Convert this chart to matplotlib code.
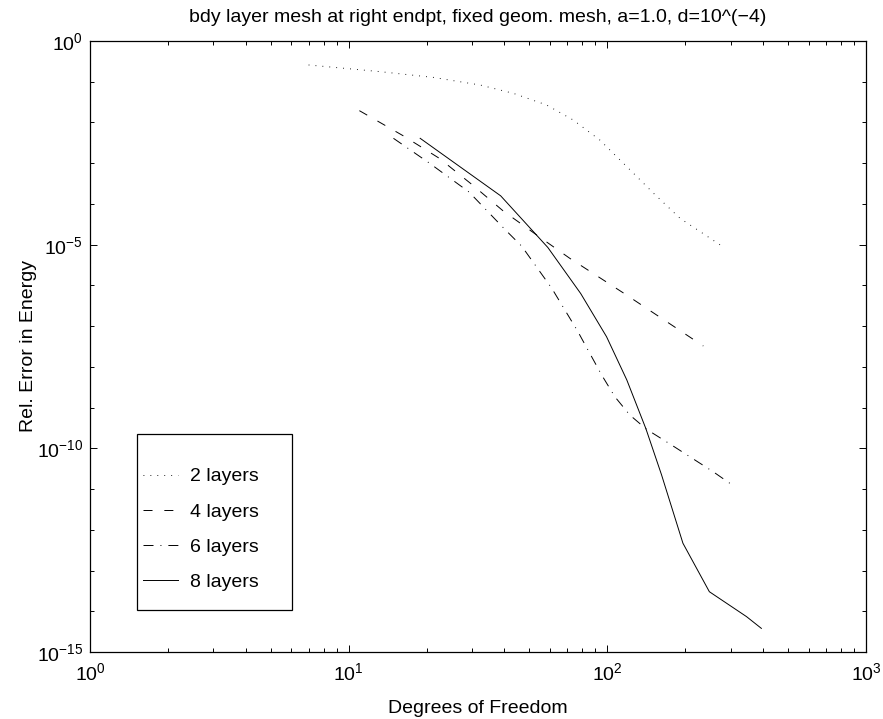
import matplotlib
matplotlib.use("Agg")
import matplotlib.pyplot as plt
from matplotlib.patches import Rectangle
from matplotlib.ticker import LogLocator, NullFormatter, LogFormatterSciNotation, FixedLocator

plt.rcParams['font.family'] = ['Liberation Sans', 'DejaVu Sans']
plt.rcParams['mathtext.fontset'] = 'custom'
plt.rcParams['mathtext.rm'] = 'Liberation Sans'
plt.rcParams['mathtext.it'] = 'Liberation Sans'
plt.rcParams['lines.scale_dashes'] = False

title = "bdy layer mesh at right endpt, fixed geom. mesh, a=1.0, d=10^(\u22124)"
xlabel = "Degrees of Freedom"
ylabel = "Rel. Error in Energy"
labels = ["2 layers", "4 layers", "6 layers", "8 layers"]

x2 = [7, 13.2, 21.2, 32.2, 43.3, 58.2, 73.8, 93.5, 119, 151, 191, 277]
y2 = [0.258, 0.177, 0.128, 0.0832, 0.0519, 0.0269, 0.0115, 0.00371, 8.2e-4, 1.82e-4, 4.44e-5, 9.3e-6]

x4 = [11, 16.3, 22.4, 29.9, 39.6, 53.3, 71.6, 116, 235]
y4 = [1.95e-2, 4.66e-3, 1.32e-3, 3.03e-4, 6.70e-5, 1.73e-5, 4.62e-6, 6.38e-7, 3.25e-8]

x6 = [14.9, 20.4, 29.2, 39.8, 46.7, 61.0, 76.6, 95.1, 106.9, 122.2, 141.9, 177.0, 256.4, 311]
y6 = [4.08e-3, 1.03e-3, 1.96e-4, 2.52e-5, 9.12e-6, 8.47e-7, 7.73e-8, 6.30e-9, 1.85e-9,
      6.56e-10, 2.92e-10, 1.21e-10, 2.67e-11, 1.14e-11]

x8 = [18.9, 38.7, 58.9, 78.9, 99.3, 118.9, 141, 162, 196, 248, 345, 394]
y8 = [4.08e-3, 1.58e-4, 8.51e-6, 6.31e-7, 5.50e-8, 4.79e-9, 3.02e-10, 2.24e-11,
      4.68e-13, 3.02e-14, 7.41e-15, 3.80e-15]

fig = plt.figure(figsize=(8.83, 7.19), dpi=100)
ax = fig.add_axes([90/883, 1-652/719, 776/883, 611/719])

lw = 0.7
ax.loglog(x2, y2, color='k', lw=lw, linestyle=(0, (0.6, 4.4)), label=labels[0])
ax.loglog(x4, y4, color='k', lw=lw, linestyle=(0, (6.5, 8.5)), label=labels[1])
ax.loglog(x6, y6, color='k', lw=lw, linestyle=(0, (7.2, 5, 0.7, 5)), label=labels[2])
ax.loglog(x8, y8, color='k', lw=lw, linestyle='-', label=labels[3])

ax.set_xlim(1, 1e3)
ax.set_ylim(1e-15, 1)

ax.yaxis.set_major_locator(FixedLocator([1e0, 1e-5, 1e-10, 1e-15]))
ax.yaxis.set_major_formatter(LogFormatterSciNotation())
ax.yaxis.set_minor_locator(FixedLocator([10.0**(-k) for k in range(16) if k % 5 != 0]))
ax.yaxis.set_minor_formatter(NullFormatter())
ax.xaxis.set_major_locator(LogLocator(base=10, numticks=10))
ax.xaxis.set_minor_locator(LogLocator(base=10, subs=range(2, 10), numticks=20))
ax.xaxis.set_minor_formatter(NullFormatter())

ax.tick_params(which='both', direction='in', top=True, right=True, labelsize=14, width=0.7)
ax.tick_params(which='major', length=5)
ax.tick_params(axis='x', which='major', pad=7)
ax.tick_params(axis='y', which='major', pad=5)
ax.tick_params(which='minor', length=3)
for s in ax.spines.values():
    s.set_linewidth(0.9)

ax.set_title(title, fontsize=14, pad=14)
ax.set_xlabel(xlabel, fontsize=14, labelpad=12)
ax.set_ylabel(ylabel, fontsize=14, labelpad=0)

leg = ax.legend(loc='center left', bbox_to_anchor=(0.0683, 0.2005), fontsize=14,
                frameon=False, borderpad=0, labelspacing=0.91, handlelength=1.8,
                handletextpad=0.62, borderaxespad=0)
ax.add_patch(Rectangle((0.0606, 0.0687), 0.1997, 0.2881, transform=ax.transAxes,
                       fill=False, edgecolor='k', lw=0.9, zorder=5))

fig.savefig("out.png", dpi=100)
